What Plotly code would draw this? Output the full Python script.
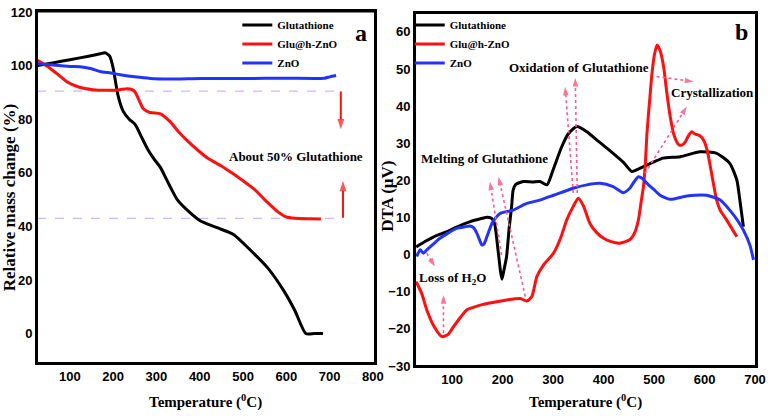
import plotly.graph_objects as go

# ---------------- Panel a: TGA ----------------
tga_glu_x = [25, 60, 100, 140, 170, 181, 192, 200, 211, 223, 237, 251, 265, 279, 295, 309, 328, 348,
             375, 402, 440, 478, 518, 557, 594, 620, 645, 665, 685]
tga_glu_y = [100, 101, 102.2, 103.4, 104.4, 104.8, 103.5, 99, 89, 83, 80, 78, 73.5, 69, 65, 62, 56, 50,
             45.5, 42, 39.5, 37, 31, 24.5, 16, 8.5, 0, 0, 0]

tga_gzn_x = [25, 50, 70, 93, 120, 153, 190, 215, 232, 244, 251, 260, 269, 285, 309, 332, 350, 371, 395,
             418, 450, 478, 500, 525, 550, 580, 600, 620, 650, 680]
tga_gzn_y = [102, 99.5, 97, 94, 92, 91, 90.8, 91, 91.4, 91, 90, 87, 84, 82.5, 82, 79, 75.5, 72, 68.5,
             65.5, 62.5, 59.5, 57, 54, 50, 45.5, 43.5, 43, 42.8, 42.7]

tga_zno_x = [25, 60, 100, 123, 150, 170, 195, 216, 250, 286, 330, 402, 500, 600, 688, 700, 715]
tga_zno_y = [100.7, 100.2, 99.7, 99.6, 98.8, 97.8, 97.2, 96.6, 95.8, 95.2, 95.0, 95.2, 95.2, 95.3, 95.3,
             95.8, 96.3]

# reference dashed levels (x extent, y level)
dash_upper_x = [24, 722]
dash_upper_y = [90.5, 90.5]
dash_lower_x = [24, 730]
dash_lower_y = [43, 43]

# solid red arrows (tail -> head)
arrow_down_x = [726, 726]
arrow_down_y = [90.3, 76.2]
arrow_up_x = [731, 731]
arrow_up_y = [43.2, 57]

# ---------------- Panel b: DTA ----------------
dta_glu_x = [29, 50, 70, 90, 110, 136, 160, 169, 178, 184, 191, 196, 199, 203, 208, 213, 218, 221, 226,
             241, 260, 274, 288, 300, 317, 330, 347, 367, 390, 419, 440, 456, 479, 500, 518, 552, 591,
             624, 650, 664, 670, 677]
dta_glu_y = [2.1, 3.8, 5.2, 6.2, 7.5, 8.9, 9.8, 10.1, 9.8, 8.5, 1.3, -4.5, -6.6, -4, -0.5, 7, 13, 17.4,
             18.9, 19.7, 19.6, 19.7, 18.8, 22.8, 29, 32.5, 34.5, 33.1, 30.5, 27.3, 24.8, 22.4, 23.7, 25,
             26, 26.4, 27.7, 27.3, 24.6, 20.1, 14.7, 7.5]

dta_gzn_x = [29, 40, 50, 65, 80, 92, 103, 116, 129, 142, 156, 180, 208, 235, 248, 258, 268, 281, 301,
             315, 327, 340, 350, 360, 373, 386, 400, 415, 432, 452, 462, 469, 475, 479, 483, 486, 491,
             496, 501, 506, 512, 519, 525, 532, 540, 549, 555, 562, 568, 575, 581, 588, 595, 601, 607,
             614, 624, 631, 644, 664]
dta_gzn_y = [-7.3, -10.5, -14.9, -19.5, -22.1, -21.5, -19.4, -17, -14.9, -14.2, -13.6, -12.9, -12.2,
             -11.8, -12.5, -11.3, -5.9, -2.8, 0.4, 4.5, 9.3, 13, 15.2, 13.2, 8.4, 6, 4.4, 3.5, 3.1, 4,
             6, 9.3, 14.7, 18.3, 25, 32.7, 41, 48.9, 54, 56.5, 55, 50.6, 44, 37.2, 32, 29.6, 29.5, 30.4,
             32, 33.1, 32.5, 32.2, 31.5, 30, 27, 21.9, 14.7, 12, 9.3, 4.8]

dta_zno_x = [30, 37, 43, 50, 60, 76, 92, 109, 125, 136, 143, 149, 155, 159, 163, 167, 173, 179, 187,
             195, 221, 248, 274, 301, 340, 367, 393, 419, 439, 452, 460, 469, 477, 486, 500, 512, 532,
             565, 604, 631, 650, 665, 677, 690, 697]
dta_zno_y = [-0.5, 1.3, 0.4, 1.3, 2.5, 4.4, 5.8, 7.1, 7.5, 7.7, 7.2, 5.8, 3.8, 2.6, 2.8, 4, 6.3, 8.4,
             10, 11.1, 12, 13.8, 14.7, 16, 17.9, 18.8, 19.2, 18.3, 16.7, 17.9, 19.5, 21, 20.5, 19.2,
             17.5, 16, 14.9, 15.8, 16, 14.7, 12, 9.3, 6.6, 2.5, -1.4]

# dotted pointer arrows in panel b: (tail x, head x), (tail y, head y)
pointer_x = [[340, 324], [348, 344], [505, 578], [482, 565], [198, 175], [245, 192], [50, 66], [83, 83]]
pointer_y = [[16.6, 45.2], [16.6, 47.6], [48, 46.6], [21.9, 39.9], [-0.1, 19.7], [-11.3, 21], [0.4, -3.2],
             [-21.2, -10.9]]

series_names = ["Glutathione", "Glu@h-ZnO", "ZnO"]
series_colors = ["#000000", "#ff1010", "#2233ff"]

SERIF = "Liberation Serif"
SANS = "Liberation Sans"

fig = go.Figure()

tga = [(tga_glu_x, tga_glu_y), (tga_gzn_x, tga_gzn_y), (tga_zno_x, tga_zno_y)]
dta = [(dta_glu_x, dta_glu_y), (dta_gzn_x, dta_gzn_y), (dta_zno_x, dta_zno_y)]

# dashed guide lines (panel a)
for xs, ys in [(dash_upper_x, dash_upper_y), (dash_lower_x, dash_lower_y)]:
    fig.add_trace(go.Scatter(x=xs, y=ys, mode="lines", showlegend=False, hoverinfo="skip",
                             line=dict(color="#d7b4ee", width=1.3, dash="dash"),
                             xaxis="x", yaxis="y"))

for (xs, ys), name, col in zip(tga, series_names, series_colors):
    fig.add_trace(go.Scatter(x=xs, y=ys, mode="lines", name=name, legend="legend",
                             line=dict(color=col, width=3, shape="spline", smoothing=0.6),
                             xaxis="x", yaxis="y"))

for (xs, ys), name, col in zip(dta, series_names, series_colors):
    fig.add_trace(go.Scatter(x=xs, y=ys, mode="lines", name=name, legend="legend2",
                             line=dict(color=col, width=3, shape="spline", smoothing=0.6),
                             xaxis="x2", yaxis="y2"))

# solid red arrows (panel a)
for xs, ys in [(arrow_down_x, arrow_down_y), (arrow_up_x, arrow_up_y)]:
    fig.add_trace(go.Scatter(x=xs, y=ys, mode="lines+markers", showlegend=False, hoverinfo="skip",
                             line=dict(color="#ff1010", width=2),
                             marker=dict(symbol="arrow", angleref="previous", size=[0, 11],
                                         color="#ff1010", line=dict(width=0)),
                             xaxis="x", yaxis="y"))

# dotted pointer arrows (panel b)
for xs, ys in zip(pointer_x, pointer_y):
    fig.add_trace(go.Scatter(x=xs, y=ys, mode="lines+markers", showlegend=False, hoverinfo="skip",
                             line=dict(color="#ff5a8a", width=1.6, dash="dot"),
                             marker=dict(symbol="arrow", angleref="previous", size=[0, 9],
                                         color="#ff3a6a", line=dict(width=0)),
                             xaxis="x2", yaxis="y2"))


def axis(domain, rng, tickvals, anchor):
    return dict(domain=domain, range=rng, tickvals=tickvals, anchor=anchor,
                showline=True, mirror=True, linecolor="#000000", linewidth=2,
                showgrid=False, zeroline=False, ticks="", automargin=False,
                tickfont=dict(family=SANS, size=13, color="#000000", weight="bold"))


fig.update_layout(
    template="none",
    width=768, height=416,
    margin=dict(l=0, r=0, t=0, b=0, autoexpand=False),
    paper_bgcolor="white", plot_bgcolor="white",
    font=dict(family=SANS, size=13, color="#000000", weight="bold"),
    xaxis=axis([0.0482, 0.4883], [24, 805], [100, 200, 300, 400, 500, 600, 700, 800], "y"),
    yaxis=axis([0.1274, 0.9724], [-11, 120.2], [0, 20, 40, 60, 80, 100, 120], "x"),
    xaxis2=axis([0.5404, 0.9844], [26.7, 702], [100, 200, 300, 400, 500, 600, 700], "y2"),
    yaxis2=axis([0.1202, 0.96875], [-30, 65.1], list(range(-30, 70, 10)), "x2"),
    legend=dict(x=0.309, y=0.975, xanchor="left", yanchor="top", bgcolor="rgba(0,0,0,0)",
                font=dict(family=SERIF, size=11, color="black", weight="bold"), tracegroupgap=0),
    legend2=dict(x=0.5335, y=0.975, xanchor="left", yanchor="top", bgcolor="rgba(0,0,0,0)",
                 font=dict(family=SERIF, size=11, color="black", weight="bold"), tracegroupgap=0),
    showlegend=True,
)

# plot frames
for xr, yr in [("x domain", "y domain"), ("x2 domain", "y2 domain")]:
    fig.add_shape(type="rect", xref=xr, yref=yr, x0=0, x1=1, y0=0, y1=1,
                  line=dict(color="#000000", width=2), fillcolor="rgba(0,0,0,0)", layer="above")


def txt(text, x, y, xref, yref, size, angle=0):
    fig.add_annotation(text=text, x=x, y=y, xref=xref, yref=yref, showarrow=False, textangle=angle,
                       xanchor="center", yanchor="middle",
                       font=dict(family=SERIF, size=size, color="black", weight="bold"))


# axis titles
txt("Temperature (<sup>0</sup>C)", 0.268, 0.034, "paper", "paper", 15)
txt("Temperature (<sup>0</sup>C)", 0.762, 0.034, "paper", "paper", 15)
txt("Relative mass change (%)", 0.012, 0.524, "paper", "paper", 17, -90)
txt("DTA (μV)", 0.505, 0.529, "paper", "paper", 17, -90)

# panel letters
txt("a", 773, 112, "x", "y", 24)
txt("b", 674, 60, "x2", "y2", 24)

# panel annotations
txt("About 50% Glutathione", 622, 66.2, "x", "y", 13)
txt("Oxidation of Glutathione", 351, 50.3, "x2", "y2", 13)
txt("Crystallization", 615, 43.8, "x2", "y2", 13)
txt("Melting of Glutathione", 165, 26, "x2", "y2", 13)
txt("Loss of H<sub>2</sub>O", 100, -6.3, "x2", "y2", 13)

fig.write_html("out.html", config={"displayModeBar": False},
               post_script="document.body.style.margin='0px';")
